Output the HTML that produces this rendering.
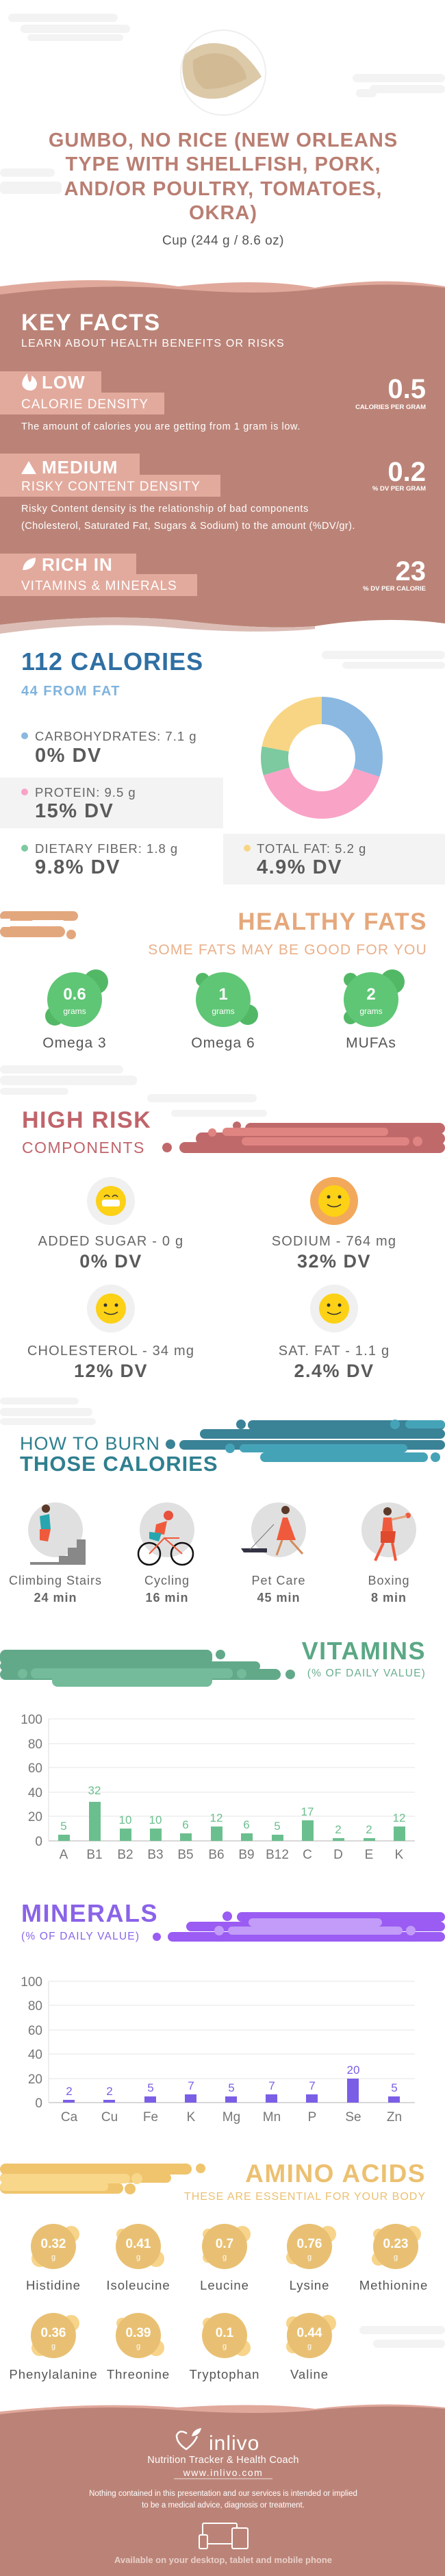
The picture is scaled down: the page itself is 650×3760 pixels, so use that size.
<!DOCTYPE html>
<html><head><meta charset="utf-8"><style>
html,body{margin:0;padding:0;background:#fff;}
svg{display:block;}
text{font-family:"Liberation Sans",sans-serif;}
</style></head><body>
<svg width="650" height="3760" viewBox="0 0 650 3760" xmlns="http://www.w3.org/2000/svg">
<!-- cloud decorations -->
<g fill="#f3f3f3">
<rect x="12" y="20" width="160" height="12" rx="6"/><rect x="30" y="36" width="160" height="12" rx="6"/><rect x="40" y="50" width="140" height="10" rx="5"/>
<rect x="515" y="108" width="135" height="12" rx="6"/><rect x="540" y="124" width="110" height="12" rx="6"/><rect x="520" y="130" width="30" height="12" rx="6"/>
<rect x="0" y="246" width="80" height="12" rx="6"/><rect x="0" y="265" width="90" height="18" rx="6"/>
<rect x="470" y="950" width="180" height="12" rx="6"/><rect x="500" y="966" width="150" height="10" rx="5"/>
<rect x="0" y="1555" width="180" height="12" rx="6"/><rect x="0" y="1570" width="200" height="14" rx="6"/><rect x="0" y="1588" width="100" height="10" rx="5"/>
<rect x="215" y="1597" width="160" height="12" rx="6"/><rect x="250" y="1620" width="140" height="10" rx="5"/>
<rect x="0" y="2040" width="115" height="10" rx="5"/><rect x="0" y="2055" width="135" height="12" rx="6"/><rect x="0" y="2070" width="140" height="10" rx="5"/>
<rect x="525" y="3395" width="125" height="12" rx="6"/><rect x="545" y="3415" width="105" height="12" rx="6"/>
</g>
<!-- food image -->
<circle cx="326" cy="106" r="62" fill="#fff" stroke="#eeeeee" stroke-width="2"/>
<path d="M270 80 Q300 52 345 70 Q370 90 382 112 Q360 130 330 142 Q290 150 272 128 Q262 100 270 80Z" fill="#dcc9a8"/>
<path d="M282 88 Q310 70 340 84 Q360 100 360 115 Q330 130 300 130 Q280 120 282 88Z" fill="#cdb48c" opacity="0.7"/>
<!-- title -->
<g fill="#b97e72" font-weight="bold" font-size="29" text-anchor="middle" letter-spacing="1">
<text x="326" y="214">GUMBO, NO RICE (NEW ORLEANS</text>
<text x="326" y="249">TYPE WITH SHELLFISH, PORK,</text>
<text x="326" y="285">AND/OR POULTRY, TOMATOES,</text>
<text x="326" y="320">OKRA)</text>
</g>
<text x="326" y="357" text-anchor="middle" font-size="19" fill="#555" letter-spacing="0.5">Cup (244 g / 8.6 oz)</text>
<!-- key facts -->
<path d="M0 418 Q140 400 260 418 Q380 405 460 420 Q560 402 650 418 L650 430 L0 430Z" fill="#e0a89b"/>
<path d="M0 430 Q140 412 260 422 Q380 432 460 422 Q560 410 650 420 L650 910 Q560 898 460 914 Q380 920 260 905 Q140 895 0 912Z" fill="#bb8377"/>
<path d="M0 912 Q140 895 260 905 Q380 920 460 914 L460 918 Q380 926 260 917 Q140 905 0 925Z" fill="#dcbdb6"/>
<text x="31" y="482" font-size="34" font-weight="bold" fill="#fff" letter-spacing="1.5">KEY FACTS</text>
<text x="31" y="506" font-size="16" fill="#fff" letter-spacing="1.2">LEARN ABOUT HEALTH BENEFITS OR RISKS</text>
<g fill="#e2aa9d">
<rect x="0" y="542" width="148" height="32"/><rect x="0" y="573" width="240" height="32"/>
<rect x="0" y="662" width="204" height="32"/><rect x="0" y="693" width="322" height="32"/>
<rect x="0" y="808" width="199" height="31"/><rect x="0" y="838" width="288" height="32"/>
</g>
<g fill="#fff">
<path d="M40 545 Q30 555 33 564 Q38 571 46 570 Q54 568 54 559 Q52 552 46 548 Q47 556 43 558 Q40 552 40 545Z"/>
<path d="M31 692 L42 673 L53 692Z"/>
<path d="M33 832 Q35 816 52 814 Q52 830 36 832Z"/>
<text x="61" y="567" font-size="26" font-weight="bold" letter-spacing="1">LOW</text>
<text x="31" y="596" font-size="19" letter-spacing="1">CALORIE DENSITY</text>
<text x="31" y="627" font-size="14.5" letter-spacing="0.6">The amount of calories you are getting from 1 gram is low.</text>
<text x="61" y="691" font-size="26" font-weight="bold" letter-spacing="1">MEDIUM</text>
<text x="31" y="716" font-size="19" letter-spacing="1">RISKY CONTENT DENSITY</text>
<text x="31" y="747" font-size="14.5" letter-spacing="0.6">Risky Content density is the relationship of bad components</text>
<text x="31" y="772" font-size="14.5" letter-spacing="0.4">(Cholesterol, Saturated Fat, Sugars &amp; Sodium) to the amount (%DV/gr).</text>
<text x="61" y="833" font-size="26" font-weight="bold" letter-spacing="1">RICH  IN</text>
<text x="31" y="861" font-size="19" letter-spacing="1">VITAMINS &amp; MINERALS</text>
<g text-anchor="end" font-weight="bold">
<text x="622" y="581" font-size="40">0.5</text>
<text x="622" y="597" font-size="9.5">CALORIES PER GRAM</text>
<text x="622" y="702" font-size="40">0.2</text>
<text x="622" y="716" font-size="9.5">% DV PER GRAM</text>
<text x="622" y="847" font-size="40">23</text>
<text x="622" y="862" font-size="9.5">% DV PER CALORIE</text>
</g>
</g>
<!-- calories -->
<text x="31" y="978" font-size="36" font-weight="bold" fill="#2f6fa3" letter-spacing="1">112 CALORIES</text>
<text x="31" y="1015" font-size="20" font-weight="bold" fill="#7fb3de" letter-spacing="1.5">44 FROM FAT</text>
<rect x="0" y="1135" width="326" height="74" fill="#f3f3f3"/>
<rect x="326" y="1217" width="324" height="74" fill="#f3f3f3"/>
<g transform="translate(470 1106) rotate(-90)" fill="none" stroke-width="40">
<circle r="69" stroke="#8ab8e0" stroke-dasharray="130.4 433.5"/>
<circle r="69" stroke="#f9a3c7" stroke-dasharray="174.5 433.5" stroke-dashoffset="-130.4"/>
<circle r="69" stroke="#7dc9a0" stroke-dasharray="33.1 433.5" stroke-dashoffset="-304.9"/>
<circle r="69" stroke="#f7d584" stroke-dasharray="95.5 433.5" stroke-dashoffset="-338"/>
</g>
<circle cx="36" cy="1074" r="5" fill="#8ab8e0"/><circle cx="36" cy="1156" r="5" fill="#f9a3c7"/><circle cx="36" cy="1238" r="5" fill="#7dc9a0"/><circle cx="361" cy="1238" r="5" fill="#f7d584"/>
<g fill="#666" font-size="18.5" letter-spacing="1">
<text x="51" y="1081">CARBOHYDRATES: 7.1 g</text>
<text x="51" y="1163">PROTEIN: 9.5 g</text>
<text x="51" y="1245">DIETARY FIBER: 1.8 g</text>
<text x="375" y="1245">TOTAL FAT: 5.2 g</text>
</g>
<g fill="#5a5a5a" font-size="29" font-weight="bold" letter-spacing="1.5">
<text x="51" y="1112">0% DV</text>
<text x="51" y="1193">15% DV</text>
<text x="51" y="1275">9.8% DV</text>
<text x="375" y="1275">4.9% DV</text>
</g>
<!-- healthy fats -->
<g fill="#e3a77d"><rect x="0" y="1330" width="114" height="14" rx="7"/><rect x="0" y="1352" width="95" height="16" rx="8"/><circle cx="104" cy="1364" r="7"/></g>
<rect x="0" y="1341" width="15" height="12" fill="#fff"/><rect x="45" y="1343" width="50" height="8" rx="4" fill="#fff"/>
<text x="624" y="1357" text-anchor="end" font-size="35" font-weight="bold" fill="#e5a87c" letter-spacing="1.5">HEALTHY FATS</text>
<text x="624" y="1393" text-anchor="end" font-size="21" fill="#eab08a" letter-spacing="1.2">SOME FATS MAY BE GOOD FOR YOU</text>
<g fill="#52b866">
<circle cx="140" cy="1433" r="18"/><circle cx="80" cy="1483" r="14"/>
<circle cx="296" cy="1430" r="10"/><circle cx="362" cy="1481" r="15"/>
<circle cx="512" cy="1430" r="10"/><circle cx="573" cy="1433" r="18"/><circle cx="512" cy="1485" r="10"/>
</g>
<g fill="#5fc675"><circle cx="109" cy="1459" r="40"/><circle cx="326" cy="1459" r="40"/><circle cx="542" cy="1459" r="40"/></g>
<g fill="#fff" text-anchor="middle">
<text x="109" y="1459" font-size="24" font-weight="bold">0.6</text><text x="109" y="1480" font-size="12">grams</text>
<text x="326" y="1459" font-size="24" font-weight="bold">1</text><text x="326" y="1480" font-size="12">grams</text>
<text x="542" y="1459" font-size="24" font-weight="bold">2</text><text x="542" y="1480" font-size="12">grams</text>
</g>
<g fill="#555" text-anchor="middle" font-size="21" letter-spacing="1">
<text x="109" y="1529">Omega 3</text><text x="326" y="1529">Omega 6</text><text x="542" y="1529">MUFAs</text>
</g>
<!-- high risk -->
<text x="32" y="1646" font-size="34" font-weight="bold" fill="#c0646a" letter-spacing="1.5">HIGH RISK</text>
<text x="32" y="1683" font-size="23" fill="#c0646a" letter-spacing="1.5">COMPONENTS</text>
<g fill="#c0696b"><rect x="358" y="1639" width="292" height="16" rx="8"/><rect x="286" y="1653" width="364" height="18" rx="9"/><rect x="262" y="1667" width="388" height="16" rx="8"/><circle cx="244" cy="1675" r="7"/><circle cx="346" cy="1643" r="6"/></g>
<g fill="#e08482"><rect x="325" y="1646" width="242" height="12" rx="6"/><rect x="353" y="1660" width="245" height="12" rx="6"/><circle cx="310" cy="1653" r="6"/><circle cx="610" cy="1666" r="7"/></g>
<circle cx="162" cy="1753" r="35" fill="#f0f0f0"/><circle cx="488" cy="1753" r="35" fill="#f2a95b"/>
<circle cx="162" cy="1910" r="35" fill="#f0f0f0"/><circle cx="488" cy="1910" r="35" fill="#f0f0f0"/>
<g fill="#fcd116"><circle cx="162" cy="1753" r="22"/><circle cx="488" cy="1753" r="23"/><circle cx="162" cy="1910" r="22"/><circle cx="488" cy="1910" r="22"/></g>
<rect x="149" y="1751" width="26" height="10" rx="3" fill="#fff"/>
<g fill="#333"><circle cx="480" cy="1747" r="2.5"/><circle cx="496" cy="1747" r="2.5"/><circle cx="154" cy="1905" r="2.5"/><circle cx="170" cy="1905" r="2.5"/><circle cx="480" cy="1905" r="2.5"/><circle cx="496" cy="1905" r="2.5"/></g>
<g fill="none" stroke="#333" stroke-width="1.5"><path d="M478 1758 Q488 1765 498 1758"/><path d="M152 1915 Q162 1922 172 1915"/><path d="M478 1915 Q488 1922 498 1915"/><path d="M152 1747 Q156 1742 160 1747 M164 1747 Q168 1742 172 1747"/></g>
<g fill="#666" text-anchor="middle" font-size="20" letter-spacing="1.2">
<text x="162" y="1818">ADDED SUGAR - 0 g</text><text x="488" y="1818">SODIUM - 764 mg</text>
<text x="162" y="1978">CHOLESTEROL - 34 mg</text><text x="488" y="1978">SAT. FAT - 1.1 g</text>
</g>
<g fill="#5a5a5a" text-anchor="middle" font-size="27" font-weight="bold" letter-spacing="1.5">
<text x="162" y="1850">0% DV</text><text x="488" y="1850">32% DV</text>
<text x="162" y="2010">12% DV</text><text x="488" y="2010">2.4% DV</text>
</g>
<!-- burn -->
<g fill="#3a8296"><rect x="362" y="2073" width="288" height="14" rx="7"/><rect x="292" y="2086" width="358" height="14" rx="7"/><rect x="262" y="2102" width="388" height="14" rx="7"/><circle cx="352" cy="2079" r="7"/><circle cx="249" cy="2108" r="7"/></g>
<g fill="#45a3b8"><rect x="592" y="2073" width="58" height="12" rx="6"/><rect x="350" y="2108" width="245" height="12" rx="6"/><rect x="380" y="2120" width="245" height="14" rx="7"/><circle cx="336" cy="2114" r="7"/><circle cx="636" cy="2127" r="7"/><circle cx="577" cy="2079" r="7"/></g>
<text x="29" y="2116" font-size="27" fill="#2f7f8f" letter-spacing="1">HOW TO BURN</text>
<text x="29" y="2147" font-size="31" font-weight="bold" fill="#2f7f8f" letter-spacing="1">THOSE CALORIES</text>
<g fill="#e0e0e0"><ellipse cx="81" cy="2233" rx="40" ry="40"/><ellipse cx="244" cy="2233" rx="40" ry="40"/><ellipse cx="407" cy="2233" rx="40" ry="40"/><ellipse cx="568" cy="2233" rx="40" ry="40"/></g>
<path d="M44 2284 L125 2284 L125 2247 L112 2247 L112 2259 L99 2259 L99 2271 L86 2271 L86 2280 L44 2280Z" fill="#888"/>
<path d="M58 2213 L72 2210 L74 2232 L60 2233Z" fill="#27a6b0"/><path d="M58 2232 L74 2232 L70 2250 L58 2248Z" fill="#f05a3c"/><circle cx="67" cy="2202" r="6" fill="#5b3a2a"/>
<circle cx="218" cy="2268" r="16" fill="none" stroke="#111" stroke-width="2.5"/><circle cx="266" cy="2268" r="16" fill="none" stroke="#111" stroke-width="2.5"/>
<path d="M218 2268 L240 2245 L266 2268 M240 2245 L262 2245" stroke="#f05a3c" stroke-width="2" fill="none"/><path d="M228 2225 L244 2220 L240 2240 L226 2238Z" fill="#f05a3c"/><path d="M218 2236 L236 2238 L232 2250 L218 2246Z" fill="#27a6b0"/><circle cx="246" cy="2212" r="7" fill="#e8513c"/>
<path d="M413 2215 L420 2215 L432 2248 L404 2248Z" fill="#f05a3c"/><circle cx="417" cy="2204" r="6" fill="#5b3a2a"/><path d="M352 2260 L390 2260 L390 2266 L356 2266Z" fill="#334"/><path d="M365 2262 L400 2225" stroke="#777"/><path d="M412 2248 L404 2270 M424 2248 L442 2268" stroke="#d48a5a" stroke-width="3"/>
<path d="M560 2215 L572 2215 L574 2235 L558 2235Z" fill="#f05a3c"/><path d="M556 2235 L578 2235 L576 2252 L556 2252Z" fill="#e04a2c"/><circle cx="566" cy="2206" r="6" fill="#5b3a2a"/><circle cx="596" cy="2212" r="4" fill="#f05a3c"/><path d="M572 2218 L594 2213" stroke="#e8a07a" stroke-width="3"/><path d="M560 2252 L548 2278 M573 2252 L578 2278" stroke="#f05a3c" stroke-width="4"/>
<g fill="#666" text-anchor="middle" font-size="18" letter-spacing="1">
<text x="81" y="2313">Climbing Stairs</text><text x="244" y="2313">Cycling</text><text x="407" y="2313">Pet Care</text><text x="568" y="2313">Boxing</text>
</g>
<g fill="#666" text-anchor="middle" font-size="18" font-weight="bold" letter-spacing="1">
<text x="81" y="2338">24 min</text><text x="244" y="2338">16 min</text><text x="407" y="2338">45 min</text><text x="568" y="2338">8 min</text>
</g>
<!-- vitamins -->
<g fill="#62a98a"><rect x="0" y="2408" width="310" height="22" rx="8"/><rect x="0" y="2425" width="380" height="14" rx="7"/><rect x="0" y="2436" width="410" height="16" rx="8"/><circle cx="322" cy="2415" r="7"/><circle cx="424" cy="2444" r="7"/></g>
<g fill="#74bb9b"><rect x="45" y="2435" width="295" height="15" rx="7"/><rect x="76" y="2440" width="234" height="22" rx="8"/><circle cx="33" cy="2443" r="7"/><circle cx="353" cy="2443" r="7"/></g>
<text x="622" y="2422" text-anchor="end" font-size="36" font-weight="bold" fill="#5aa885" letter-spacing="1.5">VITAMINS</text>
<text x="622" y="2447" text-anchor="end" font-size="15.5" fill="#6aaf90" letter-spacing="1.2">(% OF DAILY VALUE)</text>
<g stroke="#e6e6e6" stroke-width="1"><line x1="71" y1="2509" x2="606" y2="2509"/><line x1="71" y1="2545" x2="606" y2="2545"/><line x1="71" y1="2580" x2="606" y2="2580"/><line x1="71" y1="2616" x2="606" y2="2616"/><line x1="71" y1="2651" x2="606" y2="2651"/></g>
<line x1="71" y1="2687" x2="606" y2="2687" stroke="#ccc" stroke-width="1.5"/><line x1="71" y1="2509" x2="71" y2="2687" stroke="#ddd"/>
<g fill="#777" font-size="19" text-anchor="end"><text x="62" y="2516">100</text><text x="62" y="2552">80</text><text x="62" y="2587">60</text><text x="62" y="2623">40</text><text x="62" y="2658">20</text><text x="62" y="2694">0</text></g>
<g fill="#6bbf8e">
<rect x="85" y="2678" width="17" height="9"/><rect x="130" y="2630" width="17" height="57"/><rect x="175" y="2669" width="17" height="18"/><rect x="219" y="2669" width="17" height="18"/><rect x="263" y="2676" width="17" height="11"/><rect x="308" y="2666" width="17" height="21"/><rect x="352" y="2676" width="17" height="11"/><rect x="397" y="2678" width="17" height="9"/><rect x="441" y="2657" width="17" height="30"/><rect x="486" y="2683" width="17" height="4"/><rect x="531" y="2683" width="17" height="4"/><rect x="575" y="2666" width="17" height="21"/>
</g>
<g fill="#6bbf8e" font-size="17" text-anchor="middle">
<text x="93" y="2671">5</text><text x="138" y="2619">32</text><text x="183" y="2662">10</text><text x="227" y="2662">10</text><text x="271" y="2669">6</text><text x="316" y="2659">12</text><text x="360" y="2669">6</text><text x="405" y="2671">5</text><text x="449" y="2650">17</text><text x="494" y="2676">2</text><text x="539" y="2676">2</text><text x="583" y="2659">12</text>
</g>
<g fill="#777" font-size="19" text-anchor="middle">
<text x="93" y="2713">A</text><text x="138" y="2713">B1</text><text x="183" y="2713">B2</text><text x="227" y="2713">B3</text><text x="271" y="2713">B5</text><text x="316" y="2713">B6</text><text x="360" y="2713">B9</text><text x="405" y="2713">B12</text><text x="449" y="2713">C</text><text x="494" y="2713">D</text><text x="539" y="2713">E</text><text x="583" y="2713">K</text>
</g>
<!-- minerals -->
<g fill="#9a5cf2"><rect x="346" y="2791" width="304" height="14" rx="7"/><rect x="272" y="2805" width="378" height="14" rx="7"/><rect x="245" y="2820" width="405" height="14" rx="7"/><circle cx="332" cy="2797" r="7"/><circle cx="229" cy="2827" r="6"/></g>
<g fill="#c29cf8"><rect x="363" y="2800" width="195" height="12" rx="6"/><rect x="333" y="2812" width="255" height="12" rx="6"/><circle cx="320" cy="2818" r="7"/><circle cx="600" cy="2818" r="7"/></g>
<text x="31" y="2805" font-size="36" font-weight="bold" fill="#8a63e8" letter-spacing="1.5">MINERALS</text>
<text x="31" y="2831" font-size="15.5" fill="#8a63e8" letter-spacing="1.2">(% OF DAILY VALUE)</text>
<g stroke="#e6e6e6" stroke-width="1"><line x1="71" y1="2892" x2="606" y2="2892"/><line x1="71" y1="2927" x2="606" y2="2927"/><line x1="71" y1="2963" x2="606" y2="2963"/><line x1="71" y1="2998" x2="606" y2="2998"/><line x1="71" y1="3034" x2="606" y2="3034"/></g>
<line x1="71" y1="3069" x2="606" y2="3069" stroke="#ccc" stroke-width="1.5"/><line x1="71" y1="2892" x2="71" y2="3069" stroke="#ddd"/>
<g fill="#777" font-size="19" text-anchor="end"><text x="62" y="2899">100</text><text x="62" y="2934">80</text><text x="62" y="2970">60</text><text x="62" y="3005">40</text><text x="62" y="3041">20</text><text x="62" y="3076">0</text></g>
<g fill="#7b5ee6">
<rect x="92" y="3065" width="17" height="4"/><rect x="151" y="3065" width="17" height="4"/><rect x="211" y="3060" width="17" height="9"/><rect x="270" y="3057" width="17" height="12"/><rect x="329" y="3060" width="17" height="9"/><rect x="388" y="3057" width="17" height="12"/><rect x="447" y="3057" width="17" height="12"/><rect x="507" y="3034" width="17" height="35"/><rect x="567" y="3060" width="17" height="9"/>
</g>
<g fill="#7b5ee6" font-size="17" text-anchor="middle">
<text x="101" y="3058">2</text><text x="160" y="3058">2</text><text x="220" y="3053">5</text><text x="279" y="3050">7</text><text x="338" y="3053">5</text><text x="397" y="3050">7</text><text x="456" y="3050">7</text><text x="516" y="3027">20</text><text x="576" y="3053">5</text>
</g>
<g fill="#777" font-size="19" text-anchor="middle">
<text x="101" y="3096">Ca</text><text x="160" y="3096">Cu</text><text x="220" y="3096">Fe</text><text x="279" y="3096">K</text><text x="338" y="3096">Mg</text><text x="397" y="3096">Mn</text><text x="456" y="3096">P</text><text x="516" y="3096">Se</text><text x="576" y="3096">Zn</text>
</g>
<!-- amino acids -->
<g fill="#efc46d"><rect x="0" y="3158" width="280" height="16" rx="8"/><rect x="0" y="3172" width="250" height="14" rx="7"/><rect x="0" y="3186" width="180" height="16" rx="8"/><circle cx="293" cy="3165" r="7"/><circle cx="190" cy="3195" r="8"/></g>
<g fill="#f8d78a"><rect x="0" y="3173" width="190" height="14" rx="7"/><rect x="0" y="3185" width="158" height="13" rx="6"/><circle cx="200" cy="3180" r="8"/></g>
<text x="622" y="3185" text-anchor="end" font-size="37" font-weight="bold" fill="#ecc070" letter-spacing="1.5">AMINO ACIDS</text>
<text x="622" y="3211" text-anchor="end" font-size="16" fill="#ecc070" letter-spacing="1">THESE ARE ESSENTIAL FOR YOUR BODY</text>
<g fill="#f7d48a">
<circle cx="104" cy="3261" r="12"/><circle cx="58" cy="3297" r="12"/><circle cx="178" cy="3261" r="8"/><circle cx="228" cy="3297" r="12"/><circle cx="304" cy="3261" r="8"/><circle cx="354" cy="3261" r="12"/><circle cx="304" cy="3295" r="8"/><circle cx="479" cy="3261" r="12"/><circle cx="428" cy="3295" r="10"/><circle cx="553" cy="3261" r="8"/><circle cx="603" cy="3261" r="12"/><circle cx="553" cy="3297" r="10"/>
<circle cx="104" cy="3391" r="12"/><circle cx="58" cy="3427" r="12"/><circle cx="178" cy="3391" r="8"/><circle cx="228" cy="3427" r="12"/><circle cx="304" cy="3391" r="8"/><circle cx="354" cy="3427" r="12"/><circle cx="428" cy="3391" r="10"/><circle cx="479" cy="3391" r="12"/><circle cx="428" cy="3425" r="10"/>
</g>
<g fill="#e9c073">
<circle cx="78" cy="3279" r="33"/><circle cx="202" cy="3279" r="33"/><circle cx="328" cy="3279" r="33"/><circle cx="452" cy="3279" r="33"/><circle cx="578" cy="3279" r="33"/>
<circle cx="78" cy="3409" r="33"/><circle cx="202" cy="3409" r="33"/><circle cx="328" cy="3409" r="33"/><circle cx="452" cy="3409" r="33"/>
</g>
<g fill="#fff" text-anchor="middle">
<g font-size="19" font-weight="bold">
<text x="78" y="3281">0.32</text><text x="202" y="3281">0.41</text><text x="328" y="3281">0.7</text><text x="452" y="3281">0.76</text><text x="578" y="3281">0.23</text>
<text x="78" y="3411">0.36</text><text x="202" y="3411">0.39</text><text x="328" y="3411">0.1</text><text x="452" y="3411">0.44</text>
</g>
<g font-size="11">
<text x="78" y="3298">g</text><text x="202" y="3298">g</text><text x="328" y="3298">g</text><text x="452" y="3298">g</text><text x="578" y="3298">g</text>
<text x="78" y="3428">g</text><text x="202" y="3428">g</text><text x="328" y="3428">g</text><text x="452" y="3428">g</text>
</g>
</g>
<g fill="#555" text-anchor="middle" font-size="18.5" letter-spacing="1">
<text x="78" y="3342">Histidine</text><text x="202" y="3342">Isoleucine</text><text x="328" y="3342">Leucine</text><text x="452" y="3342">Lysine</text><text x="575" y="3342">Methionine</text>
<text x="78" y="3472">Phenylalanine</text><text x="202" y="3472">Threonine</text><text x="328" y="3472">Tryptophan</text><text x="452" y="3472">Valine</text>
</g>
<!-- footer -->
<path d="M0 3520 Q140 3505 260 3514 Q380 3506 460 3516 Q560 3504 650 3514 L650 3530 L0 3530Z" fill="#e0a89b"/>
<path d="M0 3524 Q140 3508 260 3518 Q380 3526 460 3518 Q560 3508 650 3516 L650 3760 L0 3760Z" fill="#bb8377"/>
<path d="M273 3552 Q262 3545 258 3555 Q258 3566 272 3575 Q284 3566 288 3556" fill="none" stroke="#fff" stroke-width="2.5"/>
<path d="M280 3556 Q282 3546 294 3544 Q292 3555 280 3556Z" fill="#fff"/>
<text x="305" y="3576" font-size="30" fill="#fff" letter-spacing="1">inlivo</text>
<g fill="#fff" text-anchor="middle">
<text x="326" y="3595" font-size="14.5" letter-spacing="0.3">Nutrition Tracker &amp; Health Coach</text>
<text x="326" y="3614" font-size="14" letter-spacing="1.5">www.inlivo.com</text>
<line x1="254" y1="3618" x2="398" y2="3618" stroke="#fff" stroke-width="0.8"/>
<text x="326" y="3643" font-size="11.5">Nothing contained in this presentation and our services is intended or implied</text>
<text x="326" y="3660" font-size="11.5">to be a medical advice, diagnosis or treatment.</text>
</g>
<g fill="none" stroke="#fff" stroke-width="2"><rect x="296" y="3683" width="50" height="30" rx="2"/><rect x="291" y="3700" width="12" height="20" rx="2" fill="#bb8377"/><rect x="339" y="3690" width="23" height="30" rx="2" fill="#bb8377"/></g>
<text x="326" y="3741" text-anchor="middle" font-size="13" font-weight="bold" fill="#e8cfc9">Available on your desktop, tablet and mobile phone</text>
</svg>
</body></html>
